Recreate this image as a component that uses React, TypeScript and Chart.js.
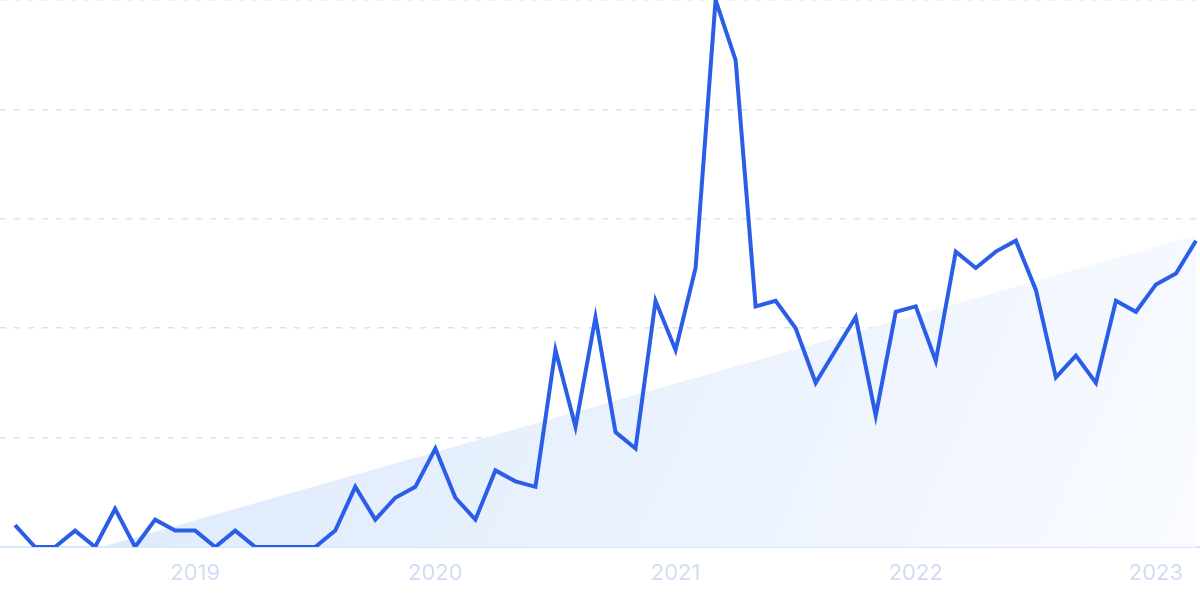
import React, { useEffect, useRef } from "react";
import { Chart, registerables } from "chart.js";

Chart.register(...registerables);

// Monthly index, Apr 2018 .. Mar 2023
const values: number[] = [
  4, 0, 0, 3, 0, 7, 0, 5, 3, 3,
  0, 3, 0, 0, 0, 0, 3, 11, 5, 9,
  11, 18, 9, 5, 14, 12, 11, 36, 22, 42,
  21, 18, 45, 36, 51, 100, 89, 44, 45, 40,
  30, 36, 42, 24, 43, 44, 34, 54, 51, 54,
  56, 47, 31, 35, 30, 45, 43, 48, 50, 56,
];
const yearTickIndex: number[] = [9, 21, 33, 45, 57];
const yearTickLabels: string[] = ["2019", "2020", "2021", "2022", "2023"];
const trendIndex: number[] = [0, 59];
const trendValues: number[] = [-4.5, 57];

export default function App() {
  const ref = useRef<HTMLCanvasElement | null>(null);
  useEffect(() => {
    document.body.style.margin = "0";
    if (!ref.current) return;
    const lineData = values.map((v, i) => ({ x: i, y: v }));
    const trendData = trendIndex.map((x, i) => ({ x, y: trendValues[i] }));
    const chart = new Chart(ref.current, {
      type: "line",
      data: {
        datasets: [
          {
            data: lineData,
            borderColor: "#2b5ee7",
            borderWidth: 4,
            borderJoinStyle: "miter",
            pointRadius: 0,
            tension: 0,
            fill: false,
            order: 0,
          },
          {
            data: trendData,
            borderWidth: 0,
            borderColor: "rgba(0,0,0,0)",
            pointRadius: 0,
            fill: "origin",
            order: 1,
            backgroundColor: (ctx: any) => {
              const ca = ctx.chart.chartArea;
              if (!ca) return "#e6effc";
              const g = ctx.chart.ctx.createLinearGradient(ca.left, ca.top, ca.right, ca.bottom);
              g.addColorStop(0, "#d6e5fb");
              g.addColorStop(1, "#f9fbff");
              return g;
            },
          },
        ],
      },
      options: {
        animation: false,
        responsive: true,
        maintainAspectRatio: false,
        layout: { padding: 0 },
        plugins: { legend: { display: false }, tooltip: { enabled: false } },
        scales: {
          x: {
            type: "linear",
            min: -0.75,
            max: 59.2,
            afterBuildTicks: (scale: any) => {
              scale.ticks = yearTickIndex.map((v) => ({ value: v }));
            },
            afterFit: (scale: any) => {
              scale.height = 52;
            },
            ticks: {
              autoSkip: false,
              maxRotation: 0,
              padding: 13,
              color: "#d2dcf6",
              font: { family: "Inter", size: 22 },
              callback: (v: any) => {
                const k = yearTickIndex.indexOf(Number(v));
                return k >= 0 ? yearTickLabels[k] : "";
              },
            },
            grid: { display: false, drawTicks: false },
            border: { display: true, color: "#d7e6fa", width: 2 },
          },
          y: {
            min: 0,
            max: 100,
            afterFit: (scale: any) => {
              scale.width = 0;
            },
            ticks: { stepSize: 20, display: false },
            grid: {
              drawTicks: false,
              color: (c: any) => (c.tick && c.tick.value === 0 ? "rgba(0,0,0,0)" : "#d9e3fb"),
              lineWidth: 1.5,
            },
            border: { display: false, dash: [6, 8] },
          },
        },
      },
    });
    return () => chart.destroy();
  }, []);
  return (
    <div style={{ position: "fixed", left: 0, top: 0, width: 1200, height: 599 }}>
      <canvas ref={ref} />
    </div>
  );
}
